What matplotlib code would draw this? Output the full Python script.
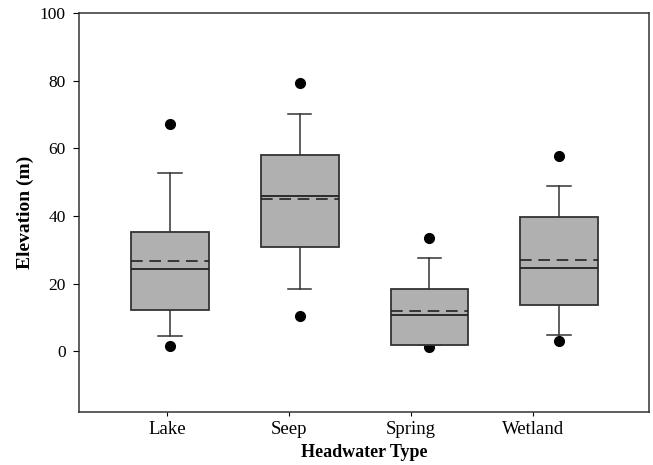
import matplotlib
matplotlib.use("Agg")
from matplotlib import pyplot as plt

plt.rcParams['font.family'] = ['Liberation Serif', 'DejaVu Serif']

# headwater types and their box statistics
types = ['Lake', 'Seep', 'Spring', 'Wetland']
whislo = [4.6, 18.3, 1.7, 4.7]
q1 = [12.3, 30.7, 1.7, 13.7]
med = [24.2, 45.8, 10.7, 24.5]
mean = [26.6, 45.1, 11.9, 27.1]
q3 = [35.1, 58.0, 18.4, 39.6]
whishi = [52.6, 70.1, 27.4, 48.9]
fliers = [[67.2, 1.6], [79.4, 10.3], [33.6, 1.2], [57.6, 3.1]]

stats = []
for i in range(len(types)):
    stats.append({'whislo': whislo[i], 'q1': q1[i], 'med': med[i], 'mean': mean[i],
                  'q3': q3[i], 'whishi': whishi[i], 'fliers': fliers[i]})

fig = plt.figure(figsize=(6.53, 4.65), dpi=100)
ax = fig.add_axes([0.121, 0.114, 0.873, 0.858])

pos = [1, 2, 3, 4]
ax.bxp(stats, positions=pos, widths=0.6, patch_artist=True,
       showmeans=True, meanline=True,
       boxprops=dict(facecolor='#b0b0b0', edgecolor='#333333', linewidth=1.3, zorder=3),
       medianprops=dict(color='#222222', linewidth=1.3, zorder=4),
       meanprops=dict(color='#222222', linestyle=(0, (7, 4)), linewidth=1.2, zorder=4),
       whiskerprops=dict(color='#333333', linewidth=1.1),
       capprops=dict(color='#333333', linewidth=1.1),
       capwidths=0.18,
       flierprops=dict(marker='o', markerfacecolor='black', markeredgecolor='black',
                       markersize=7, zorder=2))

ax.set_xlim(0.298, 4.694)
ax.set_ylim(-18, 100)
# SigmaPlot-style category ticks, slightly shifted from the boxes
ax.set_xticks([0.977, 1.917, 2.857, 3.798])
ax.set_xticklabels(types, fontsize=13.5)
ax.set_yticks([0, 20, 40, 60, 80, 100])
ax.tick_params(axis='y', labelsize=12.5, direction='out', length=4.5, pad=5)
ax.tick_params(axis='x', direction='out', length=3)
for s in ax.spines.values():
    s.set_linewidth(1.1)
    s.set_color('#333333')

ax.set_xlabel('Headwater Type', fontsize=13, fontweight='bold', labelpad=4)
ax.set_ylabel('Elevation (m)', fontsize=14, fontweight='bold', labelpad=4)

plt.savefig('out.png', dpi=100)
